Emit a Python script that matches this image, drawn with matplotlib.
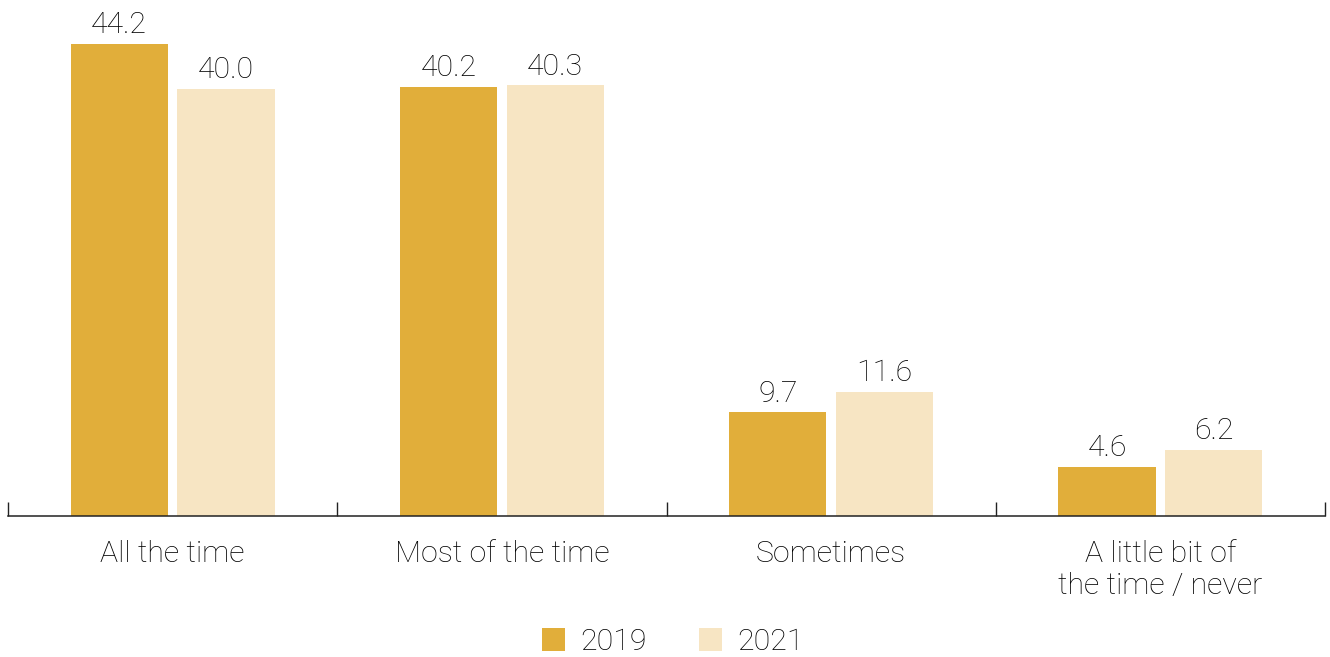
import matplotlib
matplotlib.use("Agg")
import matplotlib.pyplot as plt
import numpy as np

# ── Data ──────────────────────────────────────────────────────────────────────
categories = ["All the time", "Most of the time", "Sometimes",
              "A little bit of\nthe time / never"]
series_names = ["2019", "2021"]
values_2019 = [44.2, 40.2, 9.7, 4.6]
values_2021 = [40.0, 40.3, 11.6, 6.2]

COLOR_2019 = "#E1AE3A"
COLOR_2021 = "#F7E5C3"
TEXT_COLOR = "#000000"
FONT = ["Roboto", "Liberation Sans", "DejaVu Sans"]
FS = 21.8
# ──────────────────────────────────────────────────────────────────────────────

plt.rcParams["font.family"] = FONT
plt.rcParams["font.weight"] = "light"

fig = plt.figure(figsize=(13.3, 6.57), dpi=100)
ax = fig.add_axes([8 / 1330, 141 / 657, 1317 / 1330, 516 / 657])

x = np.arange(len(categories))
width = 0.295
offset = 0.162

bars1 = ax.bar(x - offset, values_2019, width, color=COLOR_2019, label=series_names[0])
bars2 = ax.bar(x + offset, values_2021, width, color=COLOR_2021, label=series_names[1])

for bars, vals in ((bars1, values_2019), (bars2, values_2021)):
    for b, v in zip(bars, vals):
        ax.annotate(f"{v:.1f}", (b.get_x() + b.get_width() / 2, b.get_height()),
                    xytext=(0, 3.5), textcoords="offset points",
                    ha="center", va="bottom", fontsize=FS, color=TEXT_COLOR)

ax.set_xlim(-0.5, len(categories) - 0.5)
ax.set_ylim(0, 48.3)

for s in ("top", "right", "left"):
    ax.spines[s].set_visible(False)
ax.spines["bottom"].set_color("#222222")
ax.spines["bottom"].set_linewidth(1.1)
ax.set_yticks([])

ax.set_xticks(x)
ax.set_xticklabels(categories, fontsize=FS, color=TEXT_COLOR, linespacing=1.2)
ax.tick_params(axis="x", which="major", length=0, pad=17)
ax.set_xticks(np.arange(len(categories) + 1) - 0.5, minor=True)
ax.tick_params(axis="x", which="minor", direction="in", length=10,
               width=1.0, color="#222222")

fig.legend(handles=[bars1, bars2], labels=series_names, loc="lower center",
           bbox_to_anchor=(0.506, -0.04), ncol=2, frameon=False, fontsize=FS,
           handlelength=0.75, handleheight=0.75, handletextpad=0.5,
           columnspacing=1.75, labelcolor=TEXT_COLOR)

fig.savefig("out.png", dpi=100)
